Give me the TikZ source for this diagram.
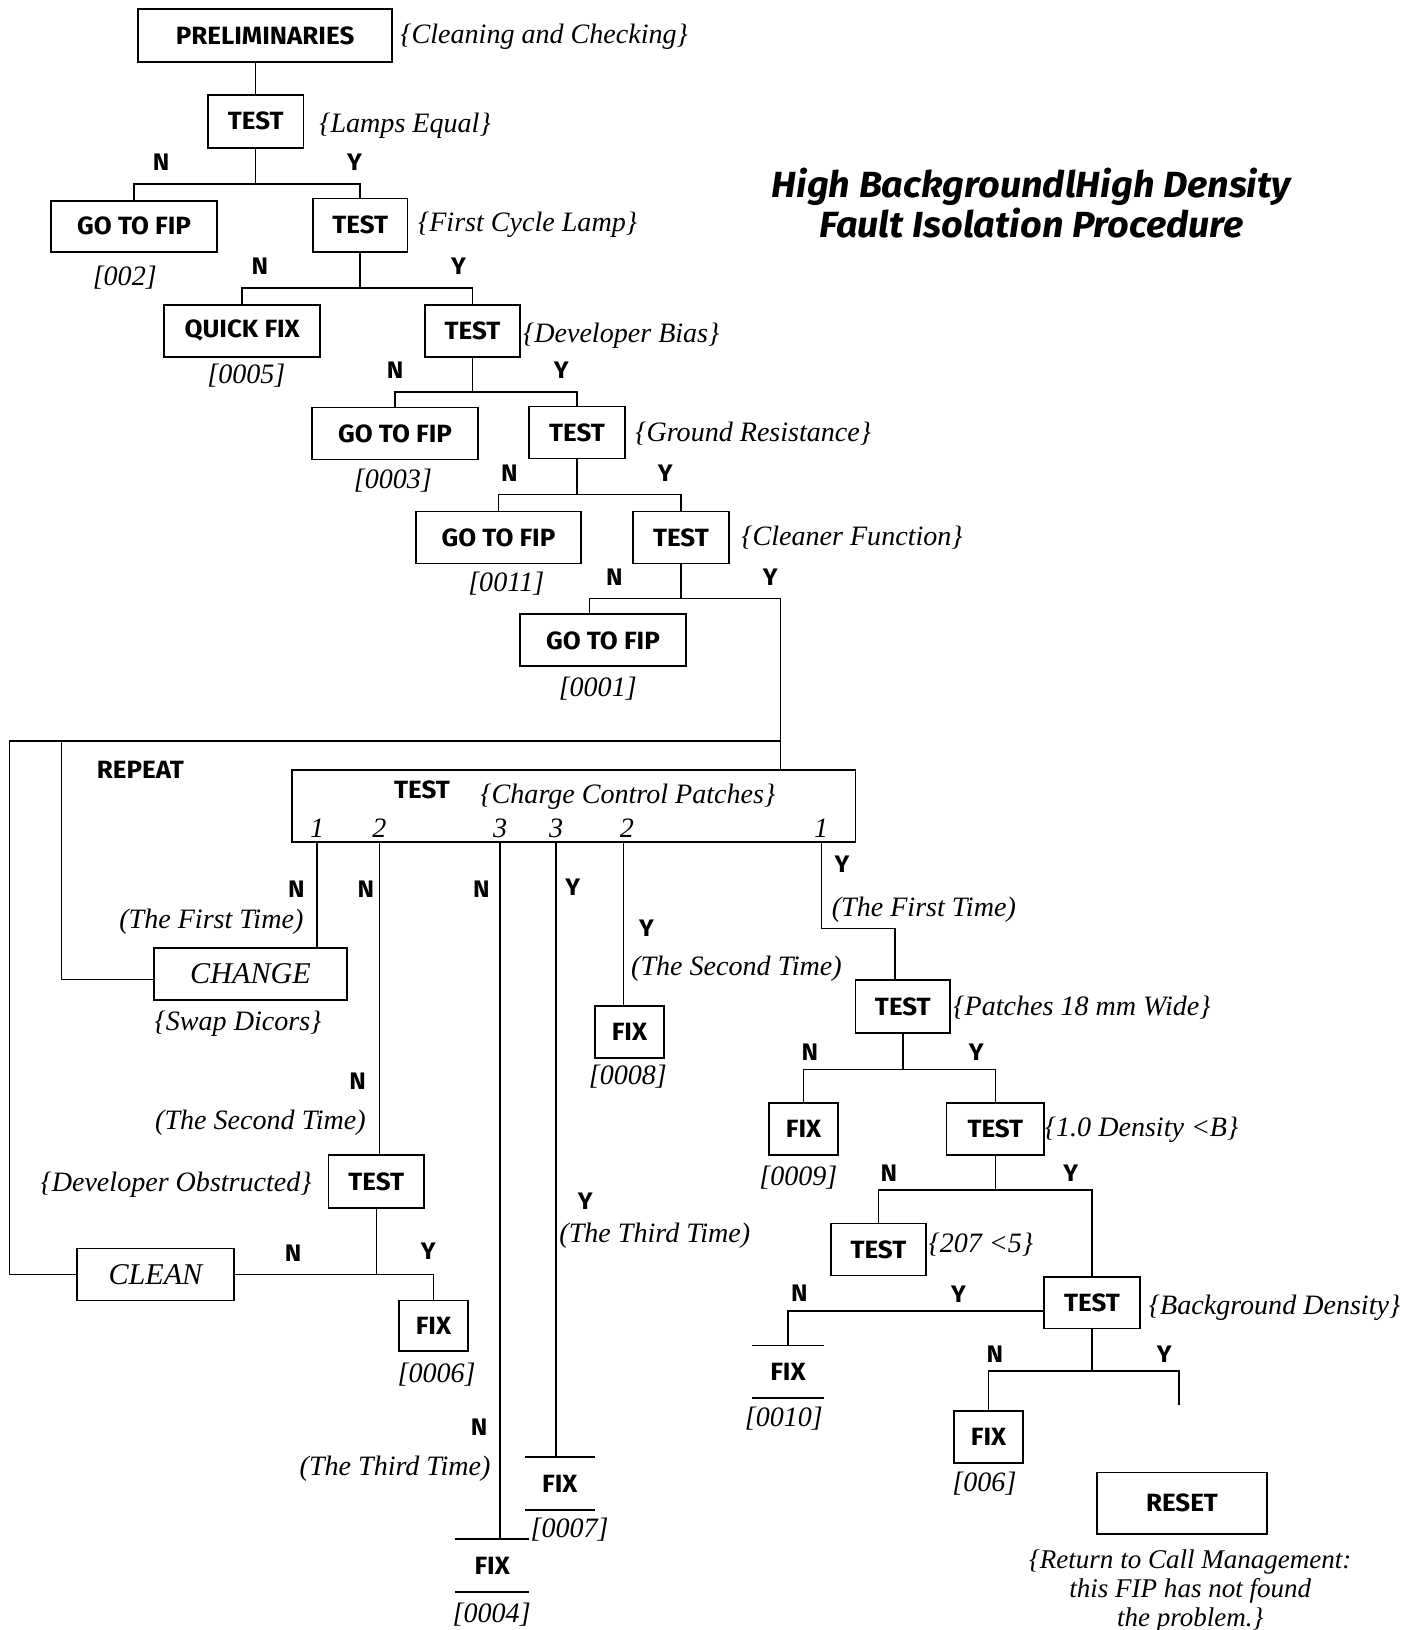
\documentclass[tikz,border=0pt]{standalone}
\usepackage{fontspec}
\setmainfont{Liberation Serif}
\newfontfamily\labfont{Fira Sans}[FakeStretch=1.04]
\usetikzlibrary{calc}

\begin{document}
\begin{tikzpicture}[x=1pt,y=-1pt,
  boxline/.style={line width=1.8pt},
  conn/.style={line width=1.4pt},
  box/.style={draw,boxline,minimum height=50pt,inner sep=0pt,
    font=\labfont\bfseries\fontsize{24}{28}\selectfont},
  openbox/.style={minimum height=50pt,inner sep=0pt,
    font=\labfont\bfseries\fontsize{24}{28}\selectfont},
  ibox/.style={box,font=\itshape\fontsize{29}{32}\selectfont},
  bold/.style={inner sep=0pt,anchor=mid,yshift=-6pt,font=\labfont\bfseries\fontsize{24}{28}\selectfont},
  yn/.style={bold,font=\labfont\bfseries\fontsize{23}{26}\selectfont},
  lab/.style={inner sep=0pt,anchor=mid,yshift=-7pt,font=\itshape\fontsize{27}{31}\selectfont},
  title/.style={inner sep=0pt,anchor=mid,yshift=-9pt,font=\labfont\bfseries\itshape\fontsize{35}{40}\selectfont}]

\useasboundingbox (0,0) rectangle (1363,1568);
\fill[white] (0,0) rectangle (1363,1568);

% ---------- heading ----------
\node[title] (title1) at (992,179) {High BackgroundlHigh Density};
\node[title] (title2) at (992,217) {Fault Isolation Procedure};

% ---------- upper chain of tests ----------
\node[box,minimum width=244pt,minimum height=51pt] (pre) at (255,34.5) {PRELIMINARIES};
\node[lab,anchor=mid west] (pre-c) at (385,33) {\{Cleaning and Checking\}};

\node[box,minimum width=92pt,minimum height=51pt] (t1) at (246,116.5) {TEST};
\node[lab,anchor=mid west] (t1-c) at (307,118) {\{Lamps Equal\}};

\node[box,minimum width=160pt,minimum height=49pt] (g1) at (129,217.5) {GO TO FIP};
\node[lab] (g1-c) at (120,265) {[002]};

\node[box,minimum width=91pt,minimum height=51pt] (t2) at (346.5,216.5) {TEST};
\node[lab,anchor=mid west] (t2-c) at (402,213) {\{First Cycle Lamp\}};

\node[box,minimum width=150pt] (qf) at (233,318) {QUICK FIX};
\node[lab] (qf-c) at (237,360) {[0005]};

\node[box,minimum width=91pt] (t3) at (454.5,318) {TEST};
\node[lab,anchor=mid west] (t3-c) at (503,320) {\{Developer Bias\}};

\node[box,minimum width=160pt] (g2) at (380,417) {GO TO FIP};
\node[lab] (g2-c) at (378,461) {[0003]};

\node[box,minimum width=92pt] (t4) at (555,416) {TEST};
\node[lab,anchor=mid west] (t4-c) at (611,415) {\{Ground Resistance\}};

\node[box,minimum width=159pt] (g3) at (479.5,517) {GO TO FIP};
\node[lab] (g3-c) at (487,560) {[0011]};

\node[box,minimum width=92pt] (t5) at (655,517) {TEST};
\node[lab,anchor=mid west] (t5-c) at (713,515) {\{Cleaner Function\}};

\node[box,minimum width=160pt] (g4) at (580,616) {GO TO FIP};
\node[lab] (g4-c) at (575,661) {[0001]};

% ---------- repeated patch test ----------
\node[draw,boxline,minimum width=542pt,minimum height=69pt] (big) at (552,775.5) {};
\node[bold] (big-t) at (406,760) {TEST};
\node[lab] (big-c) at (604,764) {\{Charge Control Patches\}};
\node[lab] (o1) at (305,796) {1};
\node[lab] (o2) at (365,796) {2};
\node[lab] (o3) at (481,796) {3};
\node[lab] (o4) at (535,796) {3};
\node[lab] (o5) at (603,796) {2};
\node[lab] (o6) at (790,796) {1};
\node[bold] (rep) at (135,741) {REPEAT};

\node[ibox,minimum width=186pt] (chg) at (241,937) {CHANGE};
\node[lab] (chg-c) at (229,982) {\{Swap Dicors\}};

\node[box,minimum width=92pt,minimum height=51pt] (t6) at (362,1136.5) {TEST};
\node[lab,anchor=mid east] (t6-c) at (300,1137) {\{Developer Obstructed\}};

\node[ibox,minimum width=151pt] (cln) at (149.5,1226) {CLEAN};

\node[box,minimum width=66pt,minimum height=49pt] (fx6) at (417,1275.5) {FIX};
\node[lab] (fx6-c) at (420,1321) {[0006]};

\node[openbox,minimum width=71pt] (fx4) at (473.5,1506) {FIX};
\draw[boxline] (fx4.north west) -- (fx4.north east) (fx4.south west) -- (fx4.south east);
\node[lab] (fx4-c) at (473,1551) {[0004]};

\node[openbox,minimum width=67pt] (fx7) at (538.5,1427) {FIX};
\draw[boxline] (fx7.north west) -- (fx7.north east) (fx7.south west) -- (fx7.south east);
\node[lab] (fx7-c) at (548,1470) {[0007]};

\node[box,minimum width=67pt] (fx8) at (605.5,993) {FIX};
\node[lab] (fx8-c) at (604,1034) {[0008]};

% ---------- right-hand chain ----------
\node[box,minimum width=91pt,minimum height=51pt] (t7) at (868.5,968.5) {TEST};
\node[lab,anchor=mid west] (t7-c) at (917,968) {\{Patches 18 mm Wide\}};

\node[box,minimum width=66pt] (fx9) at (773,1086) {FIX};
\node[lab] (fx9-c) at (768,1131) {[0009]};

\node[box,minimum width=94pt] (t8) at (957.5,1086) {TEST};
\node[lab,anchor=mid west] (t8-c) at (1005,1084) {\{1.0 Density <B\}};

\node[box,minimum width=91pt] (t9) at (845,1202) {TEST};
\node[lab,anchor=mid west] (t9-c) at (893,1196) {\{207 <5\}};

\node[box,minimum width=93pt] (t10) at (1050.5,1253) {TEST};
\node[lab,anchor=mid west] (t10-c) at (1105,1255) {\{Background Density\}};

\node[openbox,minimum width=68pt] (fx10) at (758,1319.5) {FIX};
\draw[boxline] (fx10.north west) -- (fx10.north east) (fx10.south west) -- (fx10.south east);
\node[lab] (fx10-c) at (754,1363) {[0010]};

\node[box,minimum width=66pt] (fx06) at (951,1382) {FIX};
\node[lab] (fx06-c) at (947,1425) {[006]};

\node[box,minimum width=163pt,minimum height=59pt] (reset) at (1137,1446) {RESET};
\node[lab,align=center,font=\itshape\fontsize{26}{27.5}\selectfont,anchor=north,yshift=0pt] (reset-c) at (1145,1484)
  {\{Return to Call Management:\\ this FIP has not found\\ the problem.\}};

% ---------- connectors: upper chain ----------
\draw[conn] (t1.north) -- (t1.north |- pre.south);

\draw[conn] (t1.south) -- ++(0,34) coordinate (j1);
\draw[conn] (g1.north) |- (j1) -| (t2.north);
\node[yn] (n1) at (155,156) {N};
\node[yn] (y1) at (341,156) {Y};

\draw[conn] (t2.south) -- ++(0,34) coordinate (j2);
\draw[conn] (qf.north) |- (j2) -| (t3.north);
\node[yn] (n2) at (250,256) {N};
\node[yn] (y2) at (441,256) {Y};

\draw[conn] (t3.south) -- ++(0,33) coordinate (j3);
\draw[conn] (g2.north) |- (j3) -| (t4.north);
\node[yn] (n3) at (380,356) {N};
\node[yn] (y3) at (540,356) {Y};

\draw[conn] (t4.south) -- ++(0,34) coordinate (j4);
\draw[conn] (g3.north) |- (j4) -| (t5.north);
\node[yn] (n4) at (490,455) {N};
\node[yn] (y4) at (640,455) {Y};

\coordinate (rpt) at (751,713);
\coordinate (lp) at (9,713);
\coordinate (ip) at (59,713);
\draw[conn] (t5.south) -- ++(0,33) coordinate (j5);
\draw[conn] ($(g4.north)+(-13,0)$) |- (j5) -| (rpt) -- (big.north -| rpt);
\node[yn] (n5) at (591,555) {N};
\node[yn] (y5) at (741,555) {Y};

% ---------- repeat loop ----------
\draw[conn] (rpt) -- (lp) -- (lp |- cln.west) -- (cln.west);
\draw[conn] (ip) |- ($(chg.west)+(0,5)$);

% ---------- outcomes of the patch test ----------
\coordinate (x1) at (305,0);
\coordinate (x2) at (365,0);
\coordinate (x3) at (481,0);
\coordinate (x4) at (535,0);
\coordinate (x5) at (600,0);
\coordinate (x6) at (790,893);
\coordinate (x7) at (861,0);
\draw[conn] (big.south -| x1) -- (chg.north -| x1);
\draw[conn] (big.south -| x2) -- (t6.north -| x2);
\draw[conn] (big.south -| x3) -- (fx4.north -| x3);
\draw[conn] (big.south -| x4) -- (fx7.north -| x4);
\draw[conn] (big.south -| x5) -- (fx8.north -| x5);
\draw[conn] (big.south -| x6) -- (x6) -| (t7.north -| x7);

\node[yn] (n6) at (285,855) {N};
\node[lab,anchor=mid east] (c6) at (292,884) {(The First Time)};
\node[yn] (n7) at (352,855) {N};
\node[yn] (n7b) at (344,1040) {N};
\node[lab,anchor=mid east] (c7) at (352,1077) {(The Second Time)};
\node[yn] (n8) at (463,855) {N};
\node[yn] (n8b) at (461,1373) {N};
\node[lab,anchor=mid east] (c8) at (472,1410) {(The Third Time)};
\node[yn] (y9) at (551,853) {Y};
\node[yn] (y9b) at (563,1155) {Y};
\node[lab,anchor=mid west] (c9) at (538,1186) {(The Third Time)};
\node[yn] (y10) at (622,893) {Y};
\node[lab,anchor=mid west] (c10) at (607,929) {(The Second Time)};
\node[yn] (y11) at (810,831) {Y};
\node[lab,anchor=mid west] (c11) at (800,872) {(The First Time)};

% ---------- developer obstructed ----------
\draw[conn] (t6.south) -- (t6.south |- cln.east) coordinate (j6);
\draw[conn] (cln.east) -- (j6) -| (fx6.north);
\node[yn] (n12) at (282,1205) {N};
\node[yn] (y12) at (412,1203) {Y};

% ---------- connectors: right-hand chain ----------
\draw[conn] (t7.south) -- ++(0,34) coordinate (j7);
\draw[conn] (fx9.north) |- (j7) -| (t8.north);
\node[yn] (n13) at (779,1012) {N};
\node[yn] (y13) at (939,1012) {Y};

\draw[conn] (t8.south) -- ++(0,33) coordinate (j8);
\draw[conn] (t9.north) |- (j8) -| (t10.north);
\node[yn] (n14) at (855,1128) {N};
\node[yn] (y14) at (1030,1128) {Y};

\draw[conn] ($(t10.west)+(0,8)$) -| (fx10.north);
\node[yn] (n15) at (769,1244) {N};
\node[yn] (y15) at (922,1245) {Y};

\coordinate (rs) at (1134,1352);
\draw[conn] (t10.south) -- ++(0,40) coordinate (j10);
\draw[conn] (fx06.north) |- (j10) -| (rs);
\node[yn] (n16) at (957,1302) {N};
\node[yn] (y16) at (1120,1302) {Y};

\end{tikzpicture}
\end{document}
